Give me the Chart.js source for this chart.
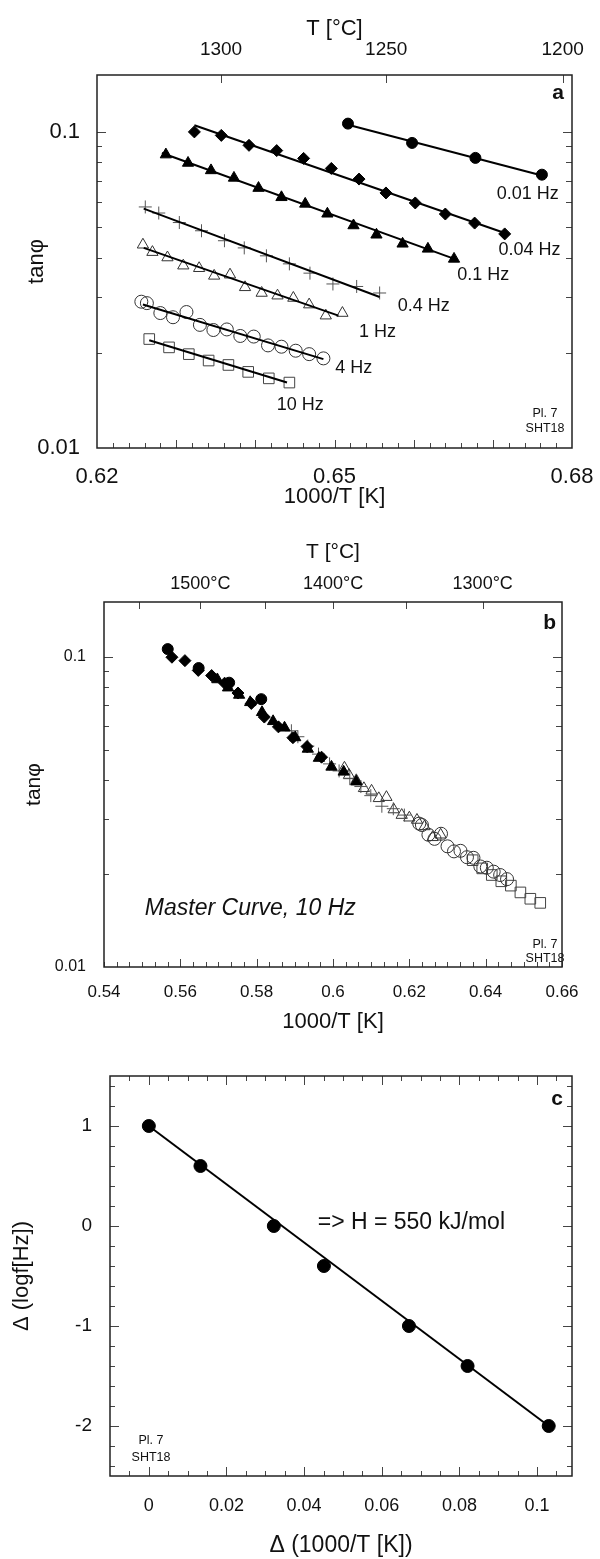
<!DOCTYPE html>
<html>
<head>
<meta charset="utf-8">
<script src="https://cdn.jsdelivr.net/npm/chart.js@4.4.1/dist/chart.umd.min.js"></script>
<style>
  body { margin: 0; background: #fff; }
  #wrap { position: relative; width: 600px; height: 1559px; }
  canvas { position: absolute; left: 0; }
</style>
</head>
<body>
<div id="wrap">
  <canvas id="cA" width="600" height="520" style="top:0px"></canvas>
  <canvas id="cB" width="600" height="520" style="top:520px"></canvas>
  <canvas id="cC" width="600" height="519" style="top:1040px"></canvas>
</div>
<script>
// ---- data ----
const freqs = ['0.01 Hz', '0.04 Hz', '0.1 Hz', '0.4 Hz', '1 Hz', '4 Hz', '10 Hz'];

// panel a: 1000/T [K] vs tan(phi), one pair of arrays per frequency
const a001X = [0.6517, 0.6598, 0.6678, 0.6762];
const a001Y = [0.106, 0.0921, 0.0826, 0.0731];
const a004X = [0.6323, 0.6357, 0.6392, 0.6427, 0.6461, 0.6496, 0.6531, 0.6565, 0.6602, 0.6640, 0.6677, 0.6715];
const a004Y = [0.0998, 0.0973, 0.0905, 0.0871, 0.0823, 0.0765, 0.0708, 0.0640, 0.0595, 0.0549, 0.0514, 0.0475];
const a01X = [0.6287, 0.6315, 0.6344, 0.6373, 0.6404, 0.6433, 0.6463, 0.6491, 0.6524, 0.6553, 0.6586, 0.6618, 0.6651];
const a01Y = [0.0846, 0.0796, 0.0754, 0.0714, 0.0663, 0.0620, 0.0591, 0.0550, 0.0505, 0.0472, 0.0442, 0.0426, 0.0396];
const a04X = [0.6261, 0.6278, 0.6304, 0.6332, 0.6361, 0.6386, 0.6414, 0.6443, 0.6469, 0.6498, 0.6528, 0.6557];
const a04Y = [0.0578, 0.0553, 0.0516, 0.0486, 0.0452, 0.0429, 0.0405, 0.0382, 0.0357, 0.0330, 0.0324, 0.0309];
const a1X = [0.6258, 0.6270, 0.6289, 0.6309, 0.6329, 0.6348, 0.6368, 0.6387, 0.6408, 0.6428, 0.6448, 0.6468, 0.6489, 0.6510];
const a1Y = [0.0439, 0.0416, 0.0400, 0.0377, 0.0370, 0.0350, 0.0353, 0.0322, 0.0309, 0.0303, 0.0298, 0.0284, 0.0262, 0.0267];
const a4X = [0.6256, 0.6263, 0.6280, 0.6296, 0.6313, 0.6330, 0.6347, 0.6364, 0.6381, 0.6398, 0.6416, 0.6433, 0.6451, 0.6468, 0.6486];
const a4Y = [0.0290, 0.0287, 0.0267, 0.0259, 0.0269, 0.0245, 0.0236, 0.0237, 0.0226, 0.0225, 0.0211, 0.0209, 0.0203, 0.0198, 0.0192];
const a10X = [0.6266, 0.6291, 0.6316, 0.6341, 0.6366, 0.6391, 0.6417, 0.6443];
const a10Y = [0.0221, 0.0208, 0.0198, 0.0189, 0.0183, 0.0174, 0.0166, 0.0161];
// fitted lines of panel a: [x0, y0, x1, y1]
const fitA = [
  [0.6517, 0.1052, 0.6762, 0.0727],
  [0.6323, 0.1047, 0.6715, 0.0478],
  [0.6282, 0.0856, 0.6654, 0.0394],
  [0.6259, 0.0571, 0.6557, 0.0300],
  [0.6259, 0.0429, 0.6505, 0.0262],
  [0.6258, 0.0284, 0.6486, 0.0191],
  [0.6266, 0.0219, 0.6440, 0.0161]
];

// panel b: master curve, shifted 1000/T [K] vs tan(phi)
const b001X = [0.5567, 0.5648, 0.5728, 0.5812];
const b001Y = [0.106, 0.0921, 0.0826, 0.0731];
const b004X = [0.5578, 0.5612, 0.5647, 0.5682, 0.5716, 0.5751, 0.5786, 0.5820, 0.5857, 0.5895, 0.5932, 0.5970];
const b004Y = [0.0998, 0.0973, 0.0905, 0.0871, 0.0823, 0.0765, 0.0708, 0.0640, 0.0595, 0.0549, 0.0514, 0.0475];
const b01X = [0.5697, 0.5725, 0.5754, 0.5783, 0.5814, 0.5843, 0.5873, 0.5901, 0.5934, 0.5963, 0.5996, 0.6028, 0.6061];
const b01Y = [0.0846, 0.0796, 0.0754, 0.0714, 0.0663, 0.0620, 0.0591, 0.0550, 0.0505, 0.0472, 0.0442, 0.0426, 0.0396];
const b04X = [0.5891, 0.5908, 0.5934, 0.5962, 0.5991, 0.6016, 0.6044, 0.6073, 0.6099, 0.6128, 0.6158, 0.6187];
const b04Y = [0.0578, 0.0553, 0.0516, 0.0486, 0.0452, 0.0429, 0.0405, 0.0382, 0.0357, 0.0330, 0.0324, 0.0309];
const b1X = [0.6030, 0.6042, 0.6061, 0.6081, 0.6101, 0.6120, 0.6140, 0.6159, 0.6180, 0.6200, 0.6220, 0.6240, 0.6261, 0.6282];
const b1Y = [0.0439, 0.0416, 0.0400, 0.0377, 0.0370, 0.0350, 0.0353, 0.0322, 0.0309, 0.0303, 0.0298, 0.0284, 0.0262, 0.0267];
const b4X = [0.6226, 0.6233, 0.6250, 0.6266, 0.6283, 0.6300, 0.6317, 0.6334, 0.6351, 0.6368, 0.6386, 0.6403, 0.6421, 0.6438, 0.6456];
const b4Y = [0.0290, 0.0287, 0.0267, 0.0259, 0.0269, 0.0245, 0.0236, 0.0237, 0.0226, 0.0225, 0.0211, 0.0209, 0.0203, 0.0198, 0.0192];
const b10X = [0.6366, 0.6391, 0.6416, 0.6441, 0.6466, 0.6491, 0.6517, 0.6543];
const b10Y = [0.0221, 0.0208, 0.0198, 0.0189, 0.0183, 0.0174, 0.0166, 0.0161];

// panel c: shift factors
const cShift = [0, 0.0133, 0.0322, 0.0451, 0.0670, 0.0821, 0.1030];
const cLogF = [1, 0.6, 0, -0.4, -1, -1.4, -2];
const fitC = [0, 1, 0.103, -2];

// tick labels
const aXLabels = [0.62, 0.65, 0.68];
const aTopT = [1300, 1250, 1200];
const logLabels = [0.01, 0.1];
const bXLabels = [0.54, 0.56, 0.58, 0.6, 0.62, 0.64, 0.66];
const bTopT = [1500, 1400, 1300];
const bTopTickT = [1550, 1500, 1450, 1400, 1350, 1300];
const cXLabels = [0, 0.02, 0.04, 0.06, 0.08, 0.1];
const cYLabels = [1, 0, -1, -2];

// ---- helpers ----
Chart.defaults.font.family = "'Liberation Sans', Arial, Helvetica, sans-serif";
Chart.defaults.color = '#111';
Chart.defaults.animation = false;

const FONT = "'Liberation Sans', Arial, Helvetica, sans-serif";
const noGrid = { display: false, drawTicks: false };

const marks = [
  { style: 'circle', r: 5.5, fill: '#000', stroke: '#000' },
  { style: 'rectRot', r: 6, fill: '#000', stroke: '#000' },
  { style: 'triangle', r: 6.5, fill: '#000', stroke: '#000' },
  { style: 'cross', r: 6.5, fill: 'rgba(0,0,0,0)', stroke: '#555' },
  { style: 'triangle', r: 6.5, fill: 'rgba(0,0,0,0)', stroke: '#333' },
  { style: 'circle', r: 6.5, fill: 'rgba(0,0,0,0)', stroke: '#333' },
  { style: 'rect', r: 7.5, fill: 'rgba(0,0,0,0)', stroke: '#444' }
];

function pts(xs, ys) { return xs.map((x, i) => ({ x: x, y: ys[i] })); }
function range(a, b, step) {
  const out = [];
  for (let v = a; v <= b + 1e-9; v += step) out.push(+v.toFixed(5));
  return out;
}
const fmt = v => String(parseFloat(Number(v).toFixed(3)));
const tempToInv = t => 1000 / (t + 273.15);

function markerSet(xs, ys, m) {
  return {
    data: pts(xs, ys), showLine: false,
    pointStyle: m.style, pointRadius: m.r, pointHoverRadius: m.r,
    pointBackgroundColor: m.fill, pointBorderColor: m.stroke, pointBorderWidth: 1
  };
}
function lineSet(seg) {
  return {
    data: [{ x: seg[0], y: seg[1] }, { x: seg[2], y: seg[3] }],
    showLine: true, borderColor: '#000', borderWidth: 2, pointRadius: 0
  };
}

// frame, inward ticks and text notes
function framePlugin(ticks, notes) {
  return {
    id: 'frame',
    afterDraw(chart) {
      const ctx = chart.ctx, a = chart.chartArea;
      ctx.save();
      ctx.lineWidth = 1;
      ctx.strokeStyle = '#444';
      ticks.forEach(t => {
        const s = chart.scales[t.scale];
        t.values.forEach(v => {
          const p = Math.round(s.getPixelForValue(v)) + 0.5;
          ctx.beginPath();
          if (t.side === 'bottom') { ctx.moveTo(p, a.bottom); ctx.lineTo(p, a.bottom - t.len); }
          if (t.side === 'top') { ctx.moveTo(p, a.top); ctx.lineTo(p, a.top + t.len); }
          if (t.side === 'left') { ctx.moveTo(a.left, p); ctx.lineTo(a.left + t.len, p); }
          if (t.side === 'right') { ctx.moveTo(a.right, p); ctx.lineTo(a.right - t.len, p); }
          ctx.stroke();
        });
      });
      ctx.strokeStyle = '#222';
      ctx.lineWidth = 1.5;
      ctx.strokeRect(a.left, a.top, a.right - a.left, a.bottom - a.top);

      ctx.fillStyle = '#111';
      ctx.textBaseline = 'middle';
      notes.forEach(n => {
        let x, y;
        if (n.data) {
          x = chart.scales.x.getPixelForValue(n.x);
          y = chart.scales.y.getPixelForValue(n.y);
        } else {
          x = a[n.ax] + n.dx;
          y = a[n.ay] + n.dy;
        }
        ctx.font = n.font;
        ctx.textAlign = n.align || 'left';
        ctx.fillText(n.text, x, y);
      });
      ctx.restore();
    }
  };
}

// fix the axis box size so the plot area lands where the figure has it
function fixedAxis(size, prop) {
  return s => {
    s[prop] = size;
    s.paddingLeft = 0; s.paddingRight = 0; s.paddingTop = 0; s.paddingBottom = 0;
  };
}

// ---- panel a ----
const aSeries = [[a001X, a001Y], [a004X, a004Y], [a01X, a01Y], [a04X, a04Y], [a1X, a1Y], [a4X, a4Y], [a10X, a10Y]];
const aDatasets = [];
aSeries.forEach((s, i) => {
  aDatasets.push(lineSet(fitA[i]));
  aDatasets.push(markerSet(s[0], s[1], marks[i]));
});

const aNotes = [
  { data: true, text: freqs[0], x: 0.6705, y: 0.0637, font: '18px ' + FONT },
  { data: true, text: freqs[1], x: 0.6707, y: 0.0422, font: '18px ' + FONT },
  { data: true, text: freqs[2], x: 0.6655, y: 0.0353, font: '18px ' + FONT },
  { data: true, text: freqs[3], x: 0.6580, y: 0.0282, font: '18px ' + FONT },
  { data: true, text: freqs[4], x: 0.6531, y: 0.0232, font: '18px ' + FONT },
  { data: true, text: freqs[5], x: 0.6501, y: 0.0179, font: '18px ' + FONT },
  { data: true, text: freqs[6], x: 0.6427, y: 0.0137, font: '18px ' + FONT },
  { text: 'a', ax: 'right', dx: -8, ay: 'top', dy: 18, font: 'bold 21px ' + FONT, align: 'right' },
  { text: 'Pl. 7', ax: 'right', dx: -27, ay: 'bottom', dy: -34, font: '12.5px ' + FONT, align: 'center' },
  { text: 'SHT18', ax: 'right', dx: -27, ay: 'bottom', dy: -19, font: '12.5px ' + FONT, align: 'center' }
];

const logMinor = [0.02, 0.03, 0.04, 0.05, 0.06, 0.07, 0.08, 0.09];
const aTicks = [
  { scale: 'x', side: 'bottom', values: range(0.622, 0.678, 0.002), len: 5 },
  { scale: 'x', side: 'bottom', values: [0.63, 0.64, 0.65, 0.66, 0.67], len: 8 },
  { scale: 'xt', side: 'top', values: aTopT.map(tempToInv), len: 8 },
  { scale: 'y', side: 'left', values: logMinor, len: 5 },
  { scale: 'y', side: 'left', values: [0.1], len: 9 },
  { scale: 'y', side: 'right', values: logMinor, len: 6 },
  { scale: 'y', side: 'right', values: [0.1], len: 9 }
];

new Chart(document.getElementById('cA'), {
  type: 'scatter',
  data: { datasets: aDatasets },
  options: {
    responsive: false, devicePixelRatio: 1,
    layout: { padding: { left: 0, right: 28, top: 0, bottom: 0 } },
    plugins: { legend: { display: false }, tooltip: { enabled: false } },
    scales: {
      x: {
        type: 'linear', position: 'bottom', min: 0.62, max: 0.68,
        grid: noGrid, border: { display: false },
        afterBuildTicks: s => { s.ticks = aXLabels.map(v => ({ value: v })); },
        afterFit: fixedAxis(72, 'height'),
        ticks: { autoSkip: false, maxRotation: 0, padding: 18, font: { size: 22, lineHeight: 1 }, callback: fmt },
        title: { display: true, text: '1000/T [K]', font: { size: 22, lineHeight: 1 }, padding: { top: 0, bottom: 12 } }
      },
      xt: {
        type: 'linear', position: 'top', min: 0.62, max: 0.68,
        grid: noGrid, border: { display: false },
        afterBuildTicks: s => { s.ticks = aTopT.map(t => ({ value: tempToInv(t) })); },
        afterFit: fixedAxis(75, 'height'),
        ticks: { autoSkip: false, maxRotation: 0, padding: 16, font: { size: 19, lineHeight: 1 }, callback: (v, i) => String(aTopT[i]) },
        title: { display: true, text: 'T [°C]', font: { size: 22, lineHeight: 1 }, padding: { top: 18, bottom: 0 } }
      },
      y: {
        type: 'logarithmic', position: 'left', min: 0.01, max: 0.151,
        grid: noGrid, border: { display: false },
        afterBuildTicks: s => { s.ticks = logLabels.map(v => ({ value: v })); },
        afterFit: fixedAxis(97, 'width'),
        ticks: { autoSkip: false, padding: 17, font: { size: 22, lineHeight: 1 }, callback: fmt },
        title: { display: true, text: 'tanφ', font: { size: 22, lineHeight: 1 }, padding: { top: 26, bottom: 0 } }
      }
    }
  },
  plugins: [framePlugin(aTicks, aNotes)]
});

// ---- panel b ----
const bSeries = [[b001X, b001Y], [b004X, b004Y], [b01X, b01Y], [b04X, b04Y], [b1X, b1Y], [b4X, b4Y], [b10X, b10Y]];
const bDatasets = bSeries.map((s, i) => markerSet(s[0], s[1], marks[i]));

const bNotes = [
  { data: true, text: 'Master Curve, 10 Hz', x: 0.5507, y: 0.0154, font: 'italic 23px ' + FONT },
  { text: 'b', ax: 'right', dx: -6, ay: 'top', dy: 21, font: 'bold 21px ' + FONT, align: 'right' },
  { text: 'Pl. 7', ax: 'right', dx: -17, ay: 'bottom', dy: -22, font: '12.5px ' + FONT, align: 'center' },
  { text: 'SHT18', ax: 'right', dx: -17, ay: 'bottom', dy: -8, font: '12.5px ' + FONT, align: 'center' }
];

const bTicks = [
  { scale: 'x', side: 'bottom', values: range(0.54, 0.66, 0.01 / 3), len: 5 },
  { scale: 'x', side: 'bottom', values: [0.56, 0.58, 0.6, 0.62, 0.64], len: 8 },
  { scale: 'xt', side: 'top', values: bTopTickT.map(tempToInv), len: 7 },
  { scale: 'y', side: 'left', values: logMinor, len: 5 },
  { scale: 'y', side: 'left', values: [0.1], len: 9 },
  { scale: 'y', side: 'right', values: logMinor, len: 6 },
  { scale: 'y', side: 'right', values: [0.1], len: 9 }
];

new Chart(document.getElementById('cB'), {
  type: 'scatter',
  data: { datasets: bDatasets },
  options: {
    responsive: false, devicePixelRatio: 1,
    layout: { padding: { left: 0, right: 38, top: 0, bottom: 0 } },
    plugins: { legend: { display: false }, tooltip: { enabled: false } },
    scales: {
      x: {
        type: 'linear', position: 'bottom', min: 0.54, max: 0.66,
        grid: noGrid, border: { display: false },
        afterBuildTicks: s => { s.ticks = bXLabels.map(v => ({ value: v })); },
        afterFit: fixedAxis(73, 'height'),
        ticks: { autoSkip: false, maxRotation: 0, padding: 17, font: { size: 17, lineHeight: 1 }, callback: fmt },
        title: { display: true, text: '1000/T [K]', font: { size: 22, lineHeight: 1 }, padding: { top: 0, bottom: 7 } }
      },
      xt: {
        type: 'linear', position: 'top', min: 0.5395, max: 0.6558,
        grid: noGrid, border: { display: false },
        afterBuildTicks: s => { s.ticks = bTopT.map(t => ({ value: tempToInv(t) })); },
        afterFit: fixedAxis(82, 'height'),
        ticks: { autoSkip: false, maxRotation: 0, padding: 9, font: { size: 18, lineHeight: 1 }, callback: (v, i) => bTopT[i] + '°C' },
        title: { display: true, text: 'T [°C]', font: { size: 21, lineHeight: 1 }, padding: { top: 22, bottom: 0 } }
      },
      y: {
        type: 'logarithmic', position: 'left', min: 0.01, max: 0.1504,
        grid: noGrid, border: { display: false },
        afterBuildTicks: s => { s.ticks = logLabels.map(v => ({ value: v })); },
        afterFit: fixedAxis(104, 'width'),
        ticks: { autoSkip: false, padding: 18, font: { size: 16, lineHeight: 1 }, callback: fmt },
        title: { display: true, text: 'tanφ', font: { size: 21, lineHeight: 1 }, padding: { top: 24, bottom: 0 } }
      }
    }
  },
  plugins: [framePlugin(bTicks, bNotes)]
});

// ---- panel c ----
const cDatasets = [
  lineSet(fitC),
  markerSet(cShift, cLogF, { style: 'circle', r: 6.5, fill: '#000', stroke: '#000' })
];

const cNotes = [
  { data: true, text: '=> H = 550 kJ/mol', x: 0.0435, y: 0.03, font: '23px ' + FONT },
  { text: 'c', ax: 'right', dx: -9, ay: 'top', dy: 23, font: 'bold 21px ' + FONT, align: 'right' },
  { text: 'Pl. 7', ax: 'left', dx: 41, ay: 'bottom', dy: -35, font: '12.5px ' + FONT, align: 'center' },
  { text: 'SHT18', ax: 'left', dx: 41, ay: 'bottom', dy: -18, font: '12.5px ' + FONT, align: 'center' }
];

const cTicks = [
  { scale: 'x', side: 'bottom', values: range(-0.005, 0.105, 0.005), len: 5 },
  { scale: 'x', side: 'bottom', values: cXLabels, len: 9 },
  { scale: 'x', side: 'top', values: range(-0.005, 0.105, 0.005), len: 5 },
  { scale: 'x', side: 'top', values: cXLabels, len: 9 },
  { scale: 'y', side: 'left', values: range(-2.4, 1.4, 0.2), len: 5 },
  { scale: 'y', side: 'left', values: cYLabels, len: 9 },
  { scale: 'y', side: 'right', values: range(-2.4, 1.4, 0.2), len: 5 },
  { scale: 'y', side: 'right', values: cYLabels, len: 9 }
];

new Chart(document.getElementById('cC'), {
  type: 'scatter',
  data: { datasets: cDatasets },
  options: {
    responsive: false, devicePixelRatio: 1,
    layout: { padding: { left: 0, right: 28, top: 36, bottom: 0 } },
    plugins: { legend: { display: false }, tooltip: { enabled: false } },
    scales: {
      x: {
        type: 'linear', position: 'bottom', min: -0.01, max: 0.109,
        grid: noGrid, border: { display: false },
        afterBuildTicks: s => { s.ticks = cXLabels.map(v => ({ value: v })); },
        afterFit: fixedAxis(83, 'height'),
        ticks: { autoSkip: false, maxRotation: 0, padding: 21, font: { size: 18, lineHeight: 1 }, callback: fmt },
        title: { display: true, text: 'Δ (1000/T [K])', font: { size: 23, lineHeight: 1 }, padding: { top: 0, bottom: 2 } }
      },
      y: {
        type: 'linear', position: 'left', min: -2.5, max: 1.5,
        grid: noGrid, border: { display: false },
        afterBuildTicks: s => { s.ticks = cYLabels.map(v => ({ value: v })); },
        afterFit: fixedAxis(110, 'width'),
        ticks: { autoSkip: false, padding: 18, font: { size: 19, lineHeight: 1 }, callback: fmt },
        title: { display: true, text: 'Δ (logf[Hz])', font: { size: 22, lineHeight: 1 }, padding: { top: 11, bottom: 0 } }
      }
    }
  },
  plugins: [framePlugin(cTicks, cNotes)]
});
</script>
</body>
</html>
